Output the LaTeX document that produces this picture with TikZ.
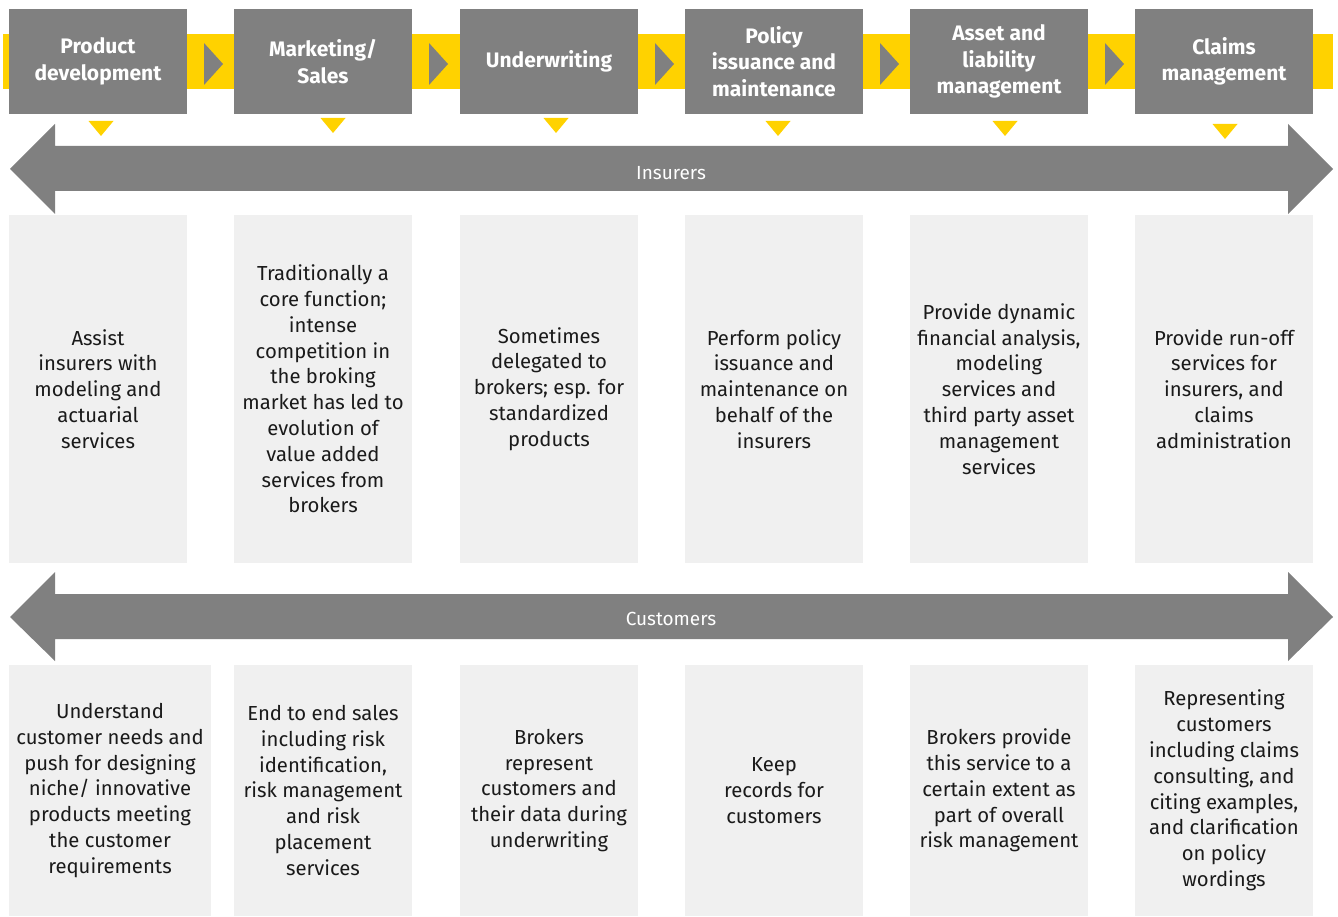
\documentclass[tikz,border=0pt]{standalone}
\usepackage{fontspec}
\setmainfont{Fira Sans}
\definecolor{eygray}{HTML}{808080}
\definecolor{eyyellow}{HTML}{FFD200}
\definecolor{eylight}{HTML}{F0F0F0}
\definecolor{eytext}{HTML}{1A1A1A}
\begin{document}
\begin{tikzpicture}[x=1pt,y=-1pt,
  head/.style={fill=eygray,draw=none,minimum width=178pt,minimum height=105pt,inner sep=0pt,
    text=white,align=center,font=\fontsize{21}{26.5}\selectfont\bfseries},
  midbox/.style={fill=eylight,draw=none,minimum width=178pt,minimum height=348pt,inner sep=0pt,
    text=eytext,align=center,font=\fontsize{20.3}{25.8}\selectfont},
  botbox/.style={fill=eylight,draw=none,minimum width=178pt,minimum height=251pt,inner sep=0pt,
    text=eytext,align=center,font=\fontsize{20.3}{25.8}\selectfont},
  arrlabel/.style={text=white,font=\fontsize{19}{22}\selectfont},
]
\useasboundingbox (0,0) rectangle (1338,917);
\fill[white] (0,0) rectangle (1338,917);
% yellow band
\fill[eyyellow] (3,34) rectangle (1333,89);
% header boxes
\node[head] (h1) at (98,61.5) {Product\\development};
\node[head] (h2) at (323,61.5) {Marketing/\\Sales};
\node[head] (h3) at (549,61.5) {Underwriting};
\node[head] (h4) at (774,61.5) {Policy\\issuance and\\maintenance};
\node[head] (h5) at (999,61.5) {Asset and\\liability\\management};
\node[head] (h6) at (1224,61.5) {Claims\\management};
% chevrons between header boxes
\foreach \x [count=\i] in {204,429,655,880,1105}{
  \fill[eygray] (\x,43) coordinate (c\i) -- ++(19,21) -- ++(-19,21) -- cycle;
}
% small yellow triangles
\foreach \x/\y [count=\i] in {101/121,333/118,556/118,778/121,1005/121,1225/124}{
  \fill[eyyellow] (\x-12.5,\y) coordinate (t\i) -- (\x+12.5,\y) -- (\x,\y+15) -- cycle;
}
% Insurers double arrow
\fill[eygray] (10,169) -- (55,124) -- (55,146) -- (1288,146) -- (1288,124) -- (1333,169)
  -- (1288,214) -- (1288,191) -- (55,191) -- (55,214) -- cycle;
\node[arrlabel] (ins) at (671,173) {Insurers};
% middle boxes
\node[midbox] (m1) at (98,389) {Assist\\insurers with\\modeling and\\actuarial\\services};
\node[midbox] (m2) at (323,389) {Traditionally a\\core function;\\intense\\competition in\\the broking\\market has led to\\evolution of\\value added\\services from\\brokers};
\node[midbox] (m3) at (549,389) {Sometimes\\delegated to\\brokers; esp. for\\standardized\\products};
\node[midbox] (m4) at (774,389) {Perform policy\\issuance and\\maintenance on\\behalf of the\\insurers};
\node[midbox] (m5) at (999,389) {Provide dynamic\\financial analysis,\\modeling\\services and\\third party asset\\management\\services};
\node[midbox] (m6) at (1224,389) {Provide run-off\\services for\\insurers, and\\claims\\administration};
% Customers double arrow
\fill[eygray] (10,617) -- (55,572) -- (55,594) -- (1288,594) -- (1288,572) -- (1333,617)
  -- (1288,661) -- (1288,639) -- (55,639) -- (55,661) -- cycle;
\node[arrlabel] (cus) at (671,619) {Customers};
% bottom boxes
\node[botbox,minimum width=202pt] (b1) at (110,790.5) {Understand\\customer needs and\\push for designing\\niche/ innovative\\products meeting\\the customer\\requirements};
\node[botbox] (b2) at (323,790.5) {End to end sales\\including risk\\identification,\\risk management\\and risk\\placement\\services};
\node[botbox] (b3) at (549,790.5) {Brokers\\represent\\customers and\\their data during\\underwriting};
\node[botbox] (b4) at (774,790.5) {Keep\\records for\\customers};
\node[botbox] (b5) at (999,790.5) {Brokers provide\\this service to a\\certain extent as\\part of overall\\risk management};
\node[botbox] (b6) at (1224,790.5) {Representing\\customers\\including claims\\consulting, and\\citing examples,\\and clarification\\on policy\\wordings};
\end{tikzpicture}
\end{document}
